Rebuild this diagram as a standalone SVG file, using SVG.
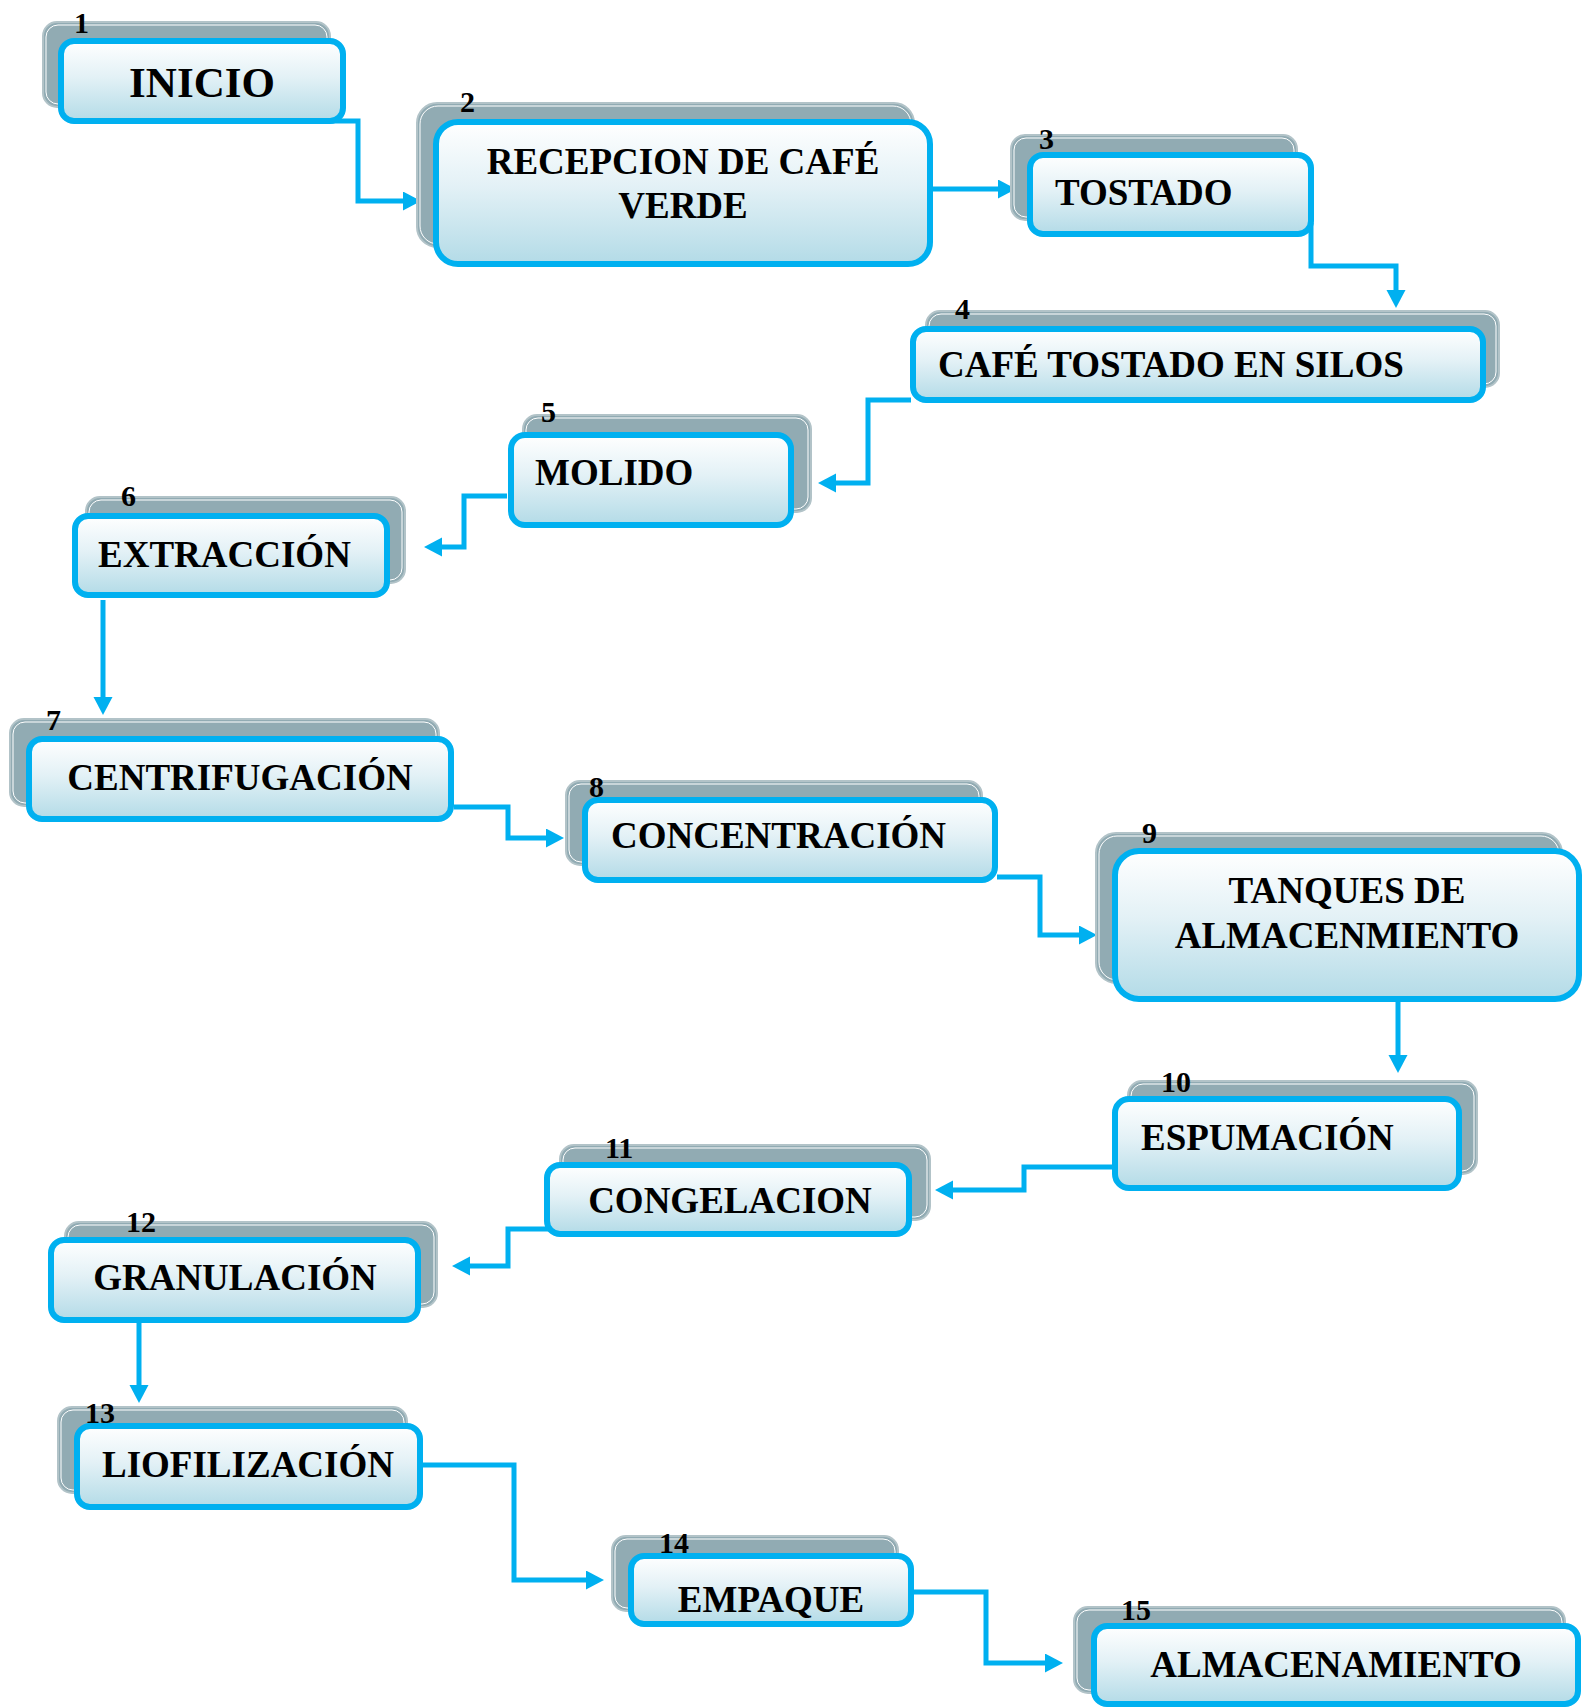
<svg xmlns="http://www.w3.org/2000/svg" width="1583" height="1708" viewBox="0 0 1583 1708">
<defs>
<linearGradient id="g" x1="0" y1="0" x2="0" y2="1">
<stop offset="0" stop-color="#ffffff"/>
<stop offset="0.45" stop-color="#e3f1f6"/>
<stop offset="1" stop-color="#b3dbe7"/>
</linearGradient>
<marker id="ah" markerUnits="userSpaceOnUse" markerWidth="20" markerHeight="20" refX="1" refY="9.5" orient="auto">
<path d="M0,0 L18,9.5 L0,19 z" fill="#00b0f0"/>
</marker>
<style>
.sh{fill:#91abb3;stroke:#b2c3c8;stroke-width:2}
.shi{fill:none;stroke:#ffffff;stroke-width:1}
.bx{fill:url(#g);stroke:#00b0f0;stroke-width:6}
.t{font-family:"Liberation Serif","Times New Roman",serif;font-weight:bold;font-size:37px;fill:#000}
.c{text-anchor:middle}
.n{font-family:"Liberation Serif","Times New Roman",serif;font-weight:bold;font-size:30px;fill:#000}
.ln{fill:none;stroke:#00b0f0;stroke-width:5;marker-end:url(#ah)}
</style>
</defs>
<rect width="1583" height="1708" fill="#ffffff"/>

<g id="connectors">
<path class="ln" d="M295,121 H358 V201 H404"/>
<path class="ln" d="M933,189 H999"/>
<path class="ln" d="M1311,223 V266 H1396 V291"/>
<path class="ln" d="M911,400 H868 V483 H835"/>
<path class="ln" d="M507,496 H464 V547 H441"/>
<path class="ln" d="M103,600 V698"/>
<path class="ln" d="M454,807 H508 V838 H547"/>
<path class="ln" d="M997,877 H1040 V935 H1080"/>
<path class="ln" d="M1398,1002 V1056"/>
<path class="ln" d="M1113,1167 H1024 V1190 H952"/>
<path class="ln" d="M564,1229 H508 V1266 H469"/>
<path class="ln" d="M139,1323 V1386"/>
<path class="ln" d="M423,1465 H514 V1580 H587"/>
<path class="ln" d="M914,1592 H986 V1663 H1046"/>
</g>

<g id="node1">
<rect class="sh" x="43" y="22" width="287" height="85" rx="14"/>
<rect class="shi" x="46" y="25" width="281" height="79" rx="12"/>
<rect class="bx" x="61" y="41" width="282" height="80" rx="13"/>
<text class="t c" x="202" y="97" style="font-size:43px">INICIO</text>
<text class="n" x="74" y="33">1</text>
</g>

<g id="node2">
<rect class="sh" x="417" y="103" width="497" height="144" rx="20"/>
<rect class="shi" x="420" y="106" width="491" height="138" rx="18"/>
<rect class="bx" x="436" y="122" width="494" height="142" rx="22"/>
<text class="t c" x="683" y="174">RECEPCION DE CAFÉ</text>
<text class="t c" x="683" y="218">VERDE</text>
<text class="n" x="460" y="112">2</text>
</g>

<g id="node3">
<rect class="sh" x="1011" y="135" width="286" height="85" rx="14"/>
<rect class="shi" x="1014" y="138" width="280" height="79" rx="12"/>
<rect class="bx" x="1030" y="155" width="281" height="79" rx="13"/>
<text class="t" x="1055" y="205">TOSTADO</text>
<text class="n" x="1039" y="149">3</text>
</g>

<g id="node4">
<rect class="sh" x="926" y="311" width="573" height="76" rx="14"/>
<rect class="shi" x="929" y="314" width="567" height="70" rx="12"/>
<rect class="bx" x="913" y="329" width="570" height="71" rx="13"/>
<text class="t" x="938" y="377">CAFÉ TOSTADO EN SILOS</text>
<text class="n" x="955" y="319">4</text>
</g>

<g id="node5">
<rect class="sh" x="523" y="415" width="288" height="97" rx="14"/>
<rect class="shi" x="526" y="418" width="282" height="91" rx="12"/>
<rect class="bx" x="511" y="435" width="280" height="90" rx="14"/>
<text class="t" x="535" y="485">MOLIDO</text>
<text class="n" x="541" y="422">5</text>
</g>

<g id="node6">
<rect class="sh" x="86" y="497" width="319" height="86" rx="14"/>
<rect class="shi" x="89" y="500" width="313" height="80" rx="12"/>
<rect class="bx" x="75" y="516" width="312" height="79" rx="13"/>
<text class="t" x="98" y="567">EXTRACCIÓN</text>
<text class="n" x="121" y="506">6</text>
</g>

<g id="node7">
<rect class="sh" x="10" y="719" width="429" height="87" rx="14"/>
<rect class="shi" x="13" y="722" width="423" height="81" rx="12"/>
<rect class="bx" x="29" y="739" width="422" height="80" rx="13"/>
<text class="t c" x="240" y="790">CENTRIFUGACIÓN</text>
<text class="n" x="46" y="730">7</text>
</g>

<g id="node8">
<rect class="sh" x="566" y="781" width="416" height="84" rx="14"/>
<rect class="shi" x="569" y="784" width="410" height="78" rx="12"/>
<rect class="bx" x="585" y="800" width="410" height="80" rx="13"/>
<text class="t" x="611" y="848">CONCENTRACIÓN</text>
<text class="n" x="589" y="797">8</text>
</g>

<g id="node9">
<rect class="sh" x="1096" y="833" width="466" height="150" rx="20"/>
<rect class="shi" x="1099" y="836" width="460" height="144" rx="18"/>
<rect class="bx" x="1115" y="851" width="464" height="148" rx="24"/>
<text class="t c" x="1347" y="903">TANQUES DE</text>
<text class="t c" x="1347" y="948">ALMACENMIENTO</text>
<text class="n" x="1142" y="843">9</text>
</g>

<g id="node10">
<rect class="sh" x="1128" y="1081" width="349" height="93" rx="14"/>
<rect class="shi" x="1131" y="1084" width="343" height="87" rx="12"/>
<rect class="bx" x="1115" y="1099" width="344" height="89" rx="14"/>
<text class="t" x="1141" y="1150">ESPUMACIÓN</text>
<text class="n" x="1161" y="1092">10</text>
</g>

<g id="node11">
<rect class="sh" x="560" y="1145" width="370" height="75" rx="14"/>
<rect class="shi" x="563" y="1148" width="364" height="69" rx="12"/>
<rect class="bx" x="547" y="1165" width="362" height="69" rx="13"/>
<text class="t c" x="730" y="1213">CONGELACION</text>
<text class="n" x="605" y="1158">11</text>
</g>

<g id="node12">
<rect class="sh" x="65" y="1222" width="372" height="85" rx="14"/>
<rect class="shi" x="68" y="1225" width="366" height="79" rx="12"/>
<rect class="bx" x="51" y="1240" width="367" height="80" rx="13"/>
<text class="t c" x="235" y="1290">GRANULACIÓN</text>
<text class="n" x="126" y="1232">12</text>
</g>

<g id="node13">
<rect class="sh" x="58" y="1407" width="349" height="86" rx="14"/>
<rect class="shi" x="61" y="1410" width="343" height="80" rx="12"/>
<rect class="bx" x="77" y="1426" width="343" height="81" rx="13"/>
<text class="t c" x="248" y="1477">LIOFILIZACIÓN</text>
<text class="n" x="85" y="1423">13</text>
</g>

<g id="node14">
<rect class="sh" x="612" y="1536" width="286" height="75" rx="14"/>
<rect class="shi" x="615" y="1539" width="280" height="69" rx="12"/>
<rect class="bx" x="631" y="1556" width="280" height="68" rx="13"/>
<text class="t c" x="771" y="1612">EMPAQUE</text>
<text class="n" x="659" y="1553">14</text>
</g>

<g id="node15">
<rect class="sh" x="1074" y="1607" width="491" height="86" rx="14"/>
<rect class="shi" x="1077" y="1610" width="485" height="80" rx="12"/>
<rect class="bx" x="1094" y="1626" width="484" height="78" rx="13"/>
<text class="t c" x="1336" y="1677">ALMACENAMIENTO</text>
<text class="n" x="1121" y="1620">15</text>
</g>
</svg>
